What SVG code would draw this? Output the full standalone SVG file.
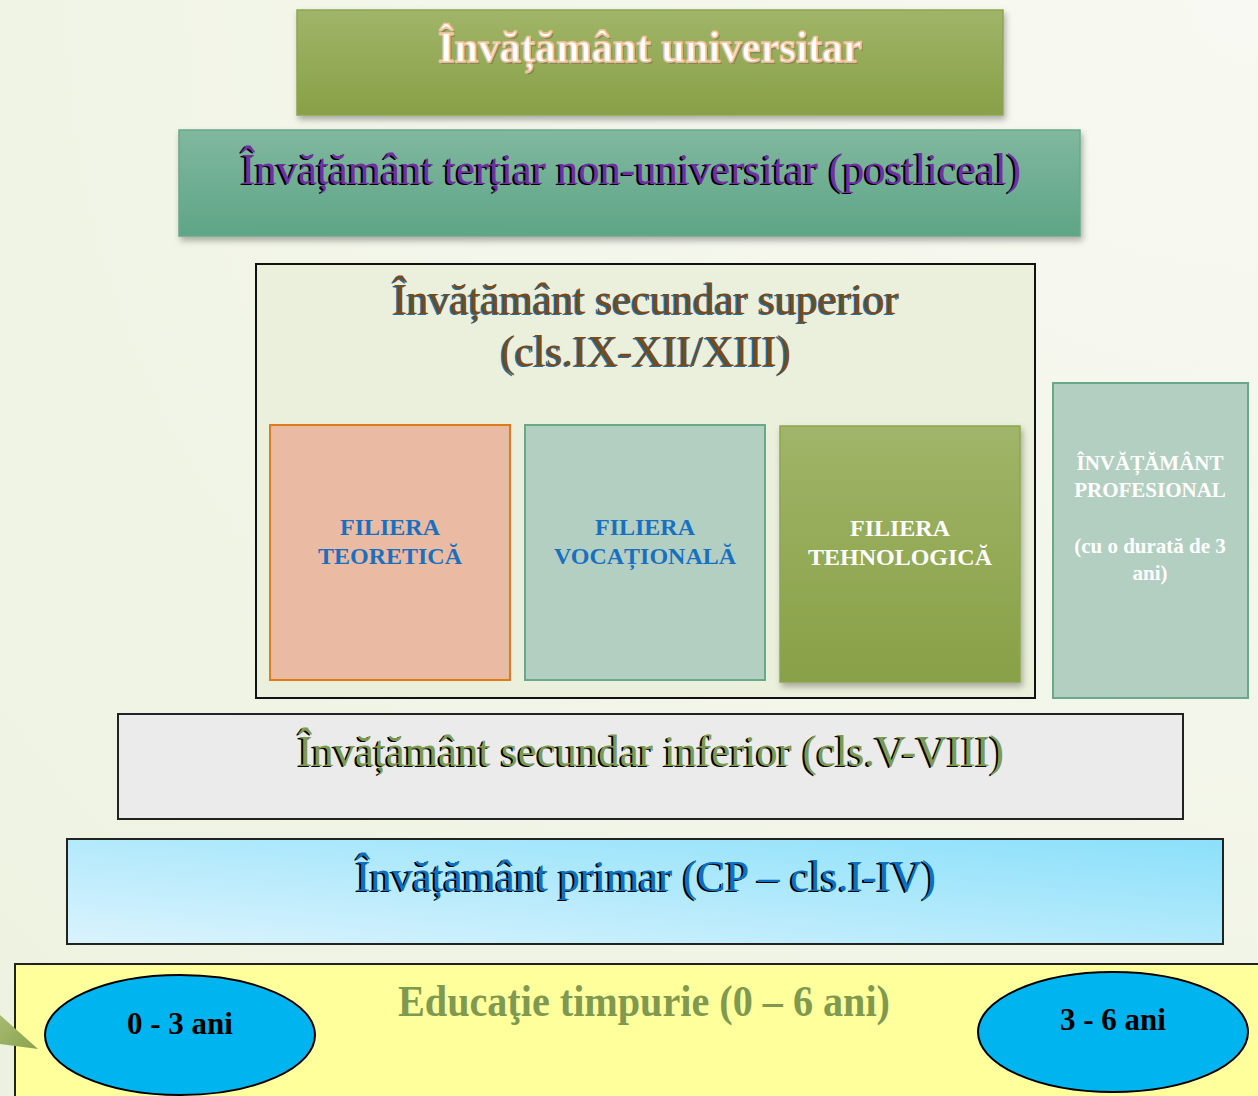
<svg xmlns="http://www.w3.org/2000/svg" width="1258" height="1096" viewBox="0 0 1258 1096">
<defs>
<radialGradient id="bg" cx="1" cy="0" r="1.4">
<stop offset="0" stop-color="#f8f9f2"/>
<stop offset="1" stop-color="#edf2e0"/>
</radialGradient>
<linearGradient id="olive" x1="0" y1="0" x2="0" y2="1">
<stop offset="0" stop-color="#a0b568"/>
<stop offset="1" stop-color="#88a047"/>
</linearGradient>
<linearGradient id="teal" x1="0" y1="0" x2="0" y2="1">
<stop offset="0" stop-color="#80b89f"/>
<stop offset="1" stop-color="#5ea586"/>
</linearGradient>
<linearGradient id="sky" x1="0" y1="1" x2="1" y2="0">
<stop offset="0" stop-color="#daf3fd"/>
<stop offset="1" stop-color="#8be0fa"/>
</linearGradient>
<linearGradient id="ptr" x1="0" y1="0" x2="1" y2="1">
<stop offset="0" stop-color="#a6bb72"/>
<stop offset="1" stop-color="#8aa24d"/>
</linearGradient>
<filter id="sh" x="-5%" y="-10%" width="110%" height="130%">
<feDropShadow dx="2" dy="4" stdDeviation="3" flood-color="#000" flood-opacity="0.3"/>
</filter>
</defs>
<style>
text{font-family:"Liberation Serif","Times New Roman",serif}
.big{font-size:44px;text-anchor:middle}
.fil{font-size:24px;font-weight:bold;text-anchor:middle}
.blue{fill:#1a70c0}
.white{fill:#ffffff}
.pro{font-size:21px;font-weight:bold;text-anchor:middle;fill:#ffffff}
.age{font-size:31px;font-weight:bold;text-anchor:middle;fill:#000}
</style>
<rect width="1258" height="1096" fill="url(#bg)"/>

<g id="universitar">
<rect x="297" y="10" width="706" height="105" fill="url(#olive)" stroke="#8ea551" stroke-width="1.5" filter="url(#sh)"/>
<text class="big" x="652" y="64" font-weight="bold" fill="#7a7a60" opacity="0.7" textLength="424" lengthAdjust="spacingAndGlyphs">Învățământ universitar</text>
<text class="big" x="650" y="62" font-weight="bold" fill="#ffffff" stroke="#f2c49c" stroke-width="1.5" textLength="424" lengthAdjust="spacingAndGlyphs">Învățământ universitar</text>
</g>

<g id="tertiar">
<rect x="179" y="130" width="901" height="106" fill="url(#teal)" stroke="#6aa88a" stroke-width="1.5" filter="url(#sh)"/>
<text class="big" x="629" y="185" font-size="46" fill="#000" textLength="780" lengthAdjust="spacingAndGlyphs">Învățământ terțiar non-universitar (postliceal)</text>
<text class="big" x="631" y="184" font-size="46" fill="#7030a0" textLength="780" lengthAdjust="spacingAndGlyphs">Învățământ terțiar non-universitar (postliceal)</text>
</g>

<g id="secundar-superior">
<rect x="256" y="264" width="779" height="434" fill="#ebf0dc" stroke="#111" stroke-width="2"/>
<text class="big" x="644" y="315" fill="#1f6ea8" textLength="506" lengthAdjust="spacingAndGlyphs">Învățământ secundar superior</text>
<text class="big" x="646" y="314" fill="#7b4a16" textLength="506" lengthAdjust="spacingAndGlyphs">Învățământ secundar superior</text>
<text class="big" x="644" y="367" fill="#1f6ea8" textLength="290" lengthAdjust="spacingAndGlyphs">(cls.IX-XII/XIII)</text>
<text class="big" x="646" y="366" fill="#7b4a16" textLength="290" lengthAdjust="spacingAndGlyphs">(cls.IX-XII/XIII)</text>
</g>

<g id="filiera-teoretica">
<rect x="270" y="425" width="240" height="255" fill="#eabaa2" stroke="#e07b1a" stroke-width="2"/>
<text class="fil blue" x="390" y="535">FILIERA</text>
<text class="fil blue" x="390" y="564">TEORETICĂ</text>
</g>

<g id="filiera-vocationala">
<rect x="525" y="425" width="240" height="255" fill="#b3cfc1" stroke="#6aa88a" stroke-width="2"/>
<text class="fil blue" x="645" y="535">FILIERA</text>
<text class="fil blue" x="645" y="564">VOCAȚIONALĂ</text>
</g>

<g id="filiera-tehnologica">
<rect x="780" y="426" width="240" height="256" fill="url(#olive)" stroke="#8ea551" stroke-width="1.5" filter="url(#sh)"/>
<text class="fil white" x="900" y="536">FILIERA</text>
<text class="fil white" x="900" y="565">TEHNOLOGICĂ</text>
</g>

<g id="profesional">
<rect x="1053" y="383" width="195" height="315" fill="#b3cfc1" stroke="#6aa88a" stroke-width="2"/>
<text class="pro" x="1150" y="470">ÎNVĂȚĂMÂNT</text>
<text class="pro" x="1150" y="497">PROFESIONAL</text>
<text class="pro" x="1150" y="553" font-size="19">(cu o durată de 3</text>
<text class="pro" x="1150" y="580" font-size="19">ani)</text>
</g>

<g id="secundar-inferior">
<rect x="118" y="714" width="1065" height="105" fill="#ebebeb" stroke="#222" stroke-width="2"/>
<text class="big" x="649" y="767" font-size="46" fill="#000" textLength="706" lengthAdjust="spacingAndGlyphs">Învățământ secundar inferior (cls.V-VIII)</text>
<text class="big" x="651" y="766" font-size="46" fill="#7f9a50" textLength="706" lengthAdjust="spacingAndGlyphs">Învățământ secundar inferior (cls.V-VIII)</text>
</g>

<g id="primar">
<rect x="67" y="839" width="1156" height="105" fill="url(#sky)" stroke="#222" stroke-width="2"/>
<text class="big" x="644" y="892" font-size="46" fill="#000" textLength="580" lengthAdjust="spacingAndGlyphs">Învățământ primar (CP – cls.I-IV)</text>
<text class="big" x="646" y="891" font-size="46" fill="#1070c0" textLength="580" lengthAdjust="spacingAndGlyphs">Învățământ primar (CP – cls.I-IV)</text>
</g>

<g id="educatie-timpurie">
<rect x="15" y="964" width="1260" height="150" fill="#ffff9c" stroke="#222" stroke-width="2"/>
<text class="big" x="644" y="1016" font-size="44" font-weight="bold" fill="#7f9a50" textLength="492" lengthAdjust="spacingAndGlyphs">Educaţie timpurie (0 – 6 ani)</text>
</g>

<g id="pointer">
<polygon points="0,1015 38,1049 0,1044" fill="url(#ptr)"/>
</g>

<g id="varsta-0-3">
<ellipse cx="180" cy="1035" rx="135" ry="60" fill="#00b4f0" stroke="#000" stroke-width="2"/>
<text class="age" x="180" y="1034">0 - 3 ani</text>
</g>

<g id="varsta-3-6">
<ellipse cx="1113" cy="1032" rx="135" ry="60" fill="#00b4f0" stroke="#000" stroke-width="2"/>
<text class="age" x="1113" y="1030">3 - 6 ani</text>
</g>

<g id="connectors"></g>
</svg>
